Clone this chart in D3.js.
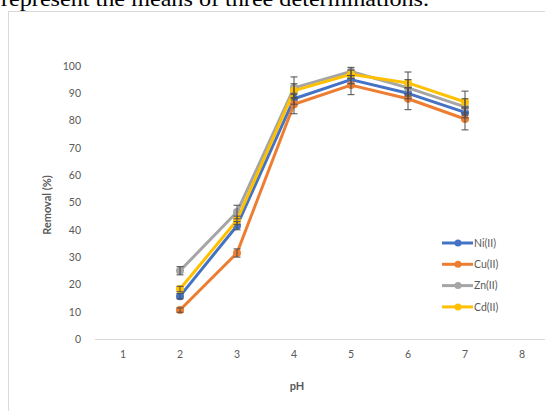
<!DOCTYPE html>
<html>
<head>
<meta charset="utf-8">
<script src="https://cdn.jsdelivr.net/npm/d3@7"></script>
<style>
  body { margin: 0; background: #fff; }
  svg { display: block; }
</style>
</head>
<body>
<svg id="chart" width="545" height="411"></svg>
<script>
// categories on the x axis (Excel style category axis)
var phLabels = ["1", "2", "3", "4", "5", "6", "7", "8"];
var phData = ["2", "3", "4", "5", "6", "7"];
var yTicks = [0, 10, 20, 30, 40, 50, 60, 70, 80, 90, 100];

// removal (%) for each metal, pH 2..7
var niValues = [15.7, 41.5, 88, 95, 90, 83];
var cuValues = [10.6, 31.5, 86, 93, 88, 80.6];
var znValues = [25, 46.5, 92, 98, 92, 85];
var cdValues = [18.3, 43.5, 91, 97, 93.8, 86.8];

// error bars (+/-)
var niErr = [1, 1.5, 2, 1.5, 2, 2];
var cuErr = [0.8, 1.5, 3.5, 3.5, 4, 4];
var znErr = [1.5, 2.5, 4, 1.5, 3, 3];
var cdErr = [1, 1.5, 2.5, 1.5, 4, 4];

var seriesNames = ["Ni(II)", "Cu(II)", "Zn(II)", "Cd(II)"];
var seriesColors = ["#4472C4", "#ED7D31", "#A5A5A5", "#FFC000"];

var series = [
  { name: seriesNames[0], color: seriesColors[0], values: niValues, err: niErr },
  { name: seriesNames[1], color: seriesColors[1], values: cuValues, err: cuErr },
  { name: seriesNames[2], color: seriesColors[2], values: znValues, err: znErr },
  { name: seriesNames[3], color: seriesColors[3], values: cdValues, err: cdErr }
];

var font = "Lato, 'Noto Sans', sans-serif";
var svg = d3.select("#chart");

// caption cut off at the top of the picture
svg.append("text")
  .attr("x", 1)
  .attr("y", 6)
  .attr("font-family", "'Liberation Serif', 'Times New Roman', serif")
  .attr("font-size", 21)
  .attr("fill", "#000")
  .attr("textLength", 428)
  .attr("lengthAdjust", "spacingAndGlyphs")
  .text("represent the means of three determinations.");

// chart frame
svg.append("rect")
  .attr("x", 8.5)
  .attr("y", 11.5)
  .attr("width", 560)
  .attr("height", 420)
  .attr("fill", "#fff")
  .attr("stroke", "#d9d9d9")
  .attr("stroke-width", 1);

var x = d3.scaleBand().domain(phLabels).range([94.5, 94.5 + 8 * 57]);
var y = d3.scaleLinear().domain([0, 100]).range([339, 66]);
var cx = function(c) { return x(c) + x.bandwidth() / 2; };

// y tick labels
var yAxis = svg.append("g")
  .attr("transform", "translate(94,0)")
  .call(d3.axisLeft(y).tickValues(yTicks).tickSize(0).tickPadding(13));
yAxis.select(".domain").remove();
yAxis.selectAll("text")
  .attr("font-family", font)
  .attr("font-size", 10.5)
  .attr("fill", "#595959");

// x axis
var xAxis = svg.append("g")
  .attr("transform", "translate(0,339)")
  .call(d3.axisBottom(x).tickSize(0).tickPadding(12));
xAxis.select(".domain").attr("stroke", "#d9d9d9").attr("stroke-width", 1);
xAxis.selectAll("text")
  .attr("font-family", font)
  .attr("font-size", 10.5)
  .attr("fill", "#595959");

// axis titles
svg.append("text")
  .attr("transform", "translate(51,205) rotate(-90)")
  .attr("text-anchor", "middle")
  .attr("font-family", font)
  .attr("font-size", 11)
  .attr("font-weight", "bold")
  .attr("fill", "#595959")
  .text("Removal (%)");

svg.append("text")
  .attr("x", 297)
  .attr("y", 390)
  .attr("text-anchor", "middle")
  .attr("font-family", font)
  .attr("font-size", 11)
  .attr("font-weight", "bold")
  .attr("fill", "#595959")
  .text("pH");

var line = d3.line()
  .x(function(d, i) { return cx(phData[i]); })
  .y(function(d) { return y(d); });

// lines and markers
series.forEach(function(s) {
  var g = svg.append("g");
  g.append("path")
    .datum(s.values)
    .attr("d", line)
    .attr("fill", "none")
    .attr("stroke", s.color)
    .attr("stroke-width", 3)
    .attr("stroke-linejoin", "round");
  g.selectAll("circle")
    .data(s.values)
    .enter().append("circle")
    .attr("cx", function(d, i) { return cx(phData[i]); })
    .attr("cy", function(d) { return y(d); })
    .attr("r", 4)
    .attr("fill", s.color);
});

// error bars on top
series.forEach(function(s) {
  var g = svg.append("g").attr("stroke", "#4d4d4d").attr("stroke-width", 1);
  s.values.forEach(function(v, i) {
    var px = cx(phData[i]);
    var top = y(v + s.err[i]);
    var bot = y(v - s.err[i]);
    g.append("line").attr("x1", px).attr("x2", px).attr("y1", top).attr("y2", bot);
    g.append("line").attr("x1", px - 3.5).attr("x2", px + 3.5).attr("y1", top).attr("y2", top);
    g.append("line").attr("x1", px - 3.5).attr("x2", px + 3.5).attr("y1", bot).attr("y2", bot);
  });
});

// legend
var legend = svg.append("g").attr("transform", "translate(442,243)");
series.forEach(function(s, i) {
  var row = legend.append("g").attr("transform", "translate(0," + (i * 21.3) + ")");
  row.append("line")
    .attr("x1", 0).attr("x2", 31)
    .attr("stroke", s.color).attr("stroke-width", 3);
  row.append("circle").attr("cx", 16).attr("r", 3.5).attr("fill", s.color);
  row.append("text")
    .attr("x", 32)
    .attr("dy", "0.35em")
    .attr("font-family", font)
    .attr("font-size", 10.5)
    .attr("fill", "#595959")
    .text(s.name);
});
</script>
</body>
</html>
